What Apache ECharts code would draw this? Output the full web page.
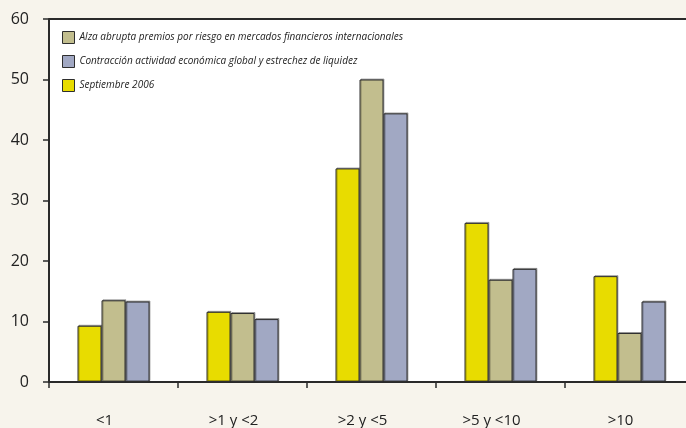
<!DOCTYPE html>
<html><head><meta charset="utf-8">
<script src="https://cdn.jsdelivr.net/npm/echarts@6/dist/echarts.min.js"></script>
<style>html,body{margin:0;padding:0;background:#f7f4ec;overflow:hidden;width:686px;height:428px;}#c{width:694px;height:428px;}</style>
</head><body><div id="c"></div>
<script>
const categories = ['<1', '>1 y <2', '>2 y <5', '>5 y <10', '>10'];
const septiembre2006 = [9.3, 11.6, 35.3, 26.3, 17.5];
const alzaAbrupta = [13.5, 11.4, 50.0, 16.9, 8.1];
const contraccion = [13.3, 10.4, 44.4, 18.7, 13.3];
const yTicks = [0, 10, 20, 30, 40, 50, 60];

const names = {
  alza: 'Alza abrupta premios por riesgo en mercados financieros internacionales',
  contr: 'Contracción actividad económica global y estrechez de liquidez',
  sep: 'Septiembre 2006'
};
const barBorder = { borderColor: '#2e2e2e', borderWidth: 1, shadowColor: 'rgba(0,0,0,0.3)', shadowBlur: 0, shadowOffsetX: 1, shadowOffsetY: -1 };
const chart = echarts.init(document.getElementById('c'), null, { renderer: 'canvas' });
chart.setOption({
  backgroundColor: '#f7f4ec',
  animation: false,
  grid: { left: 49, top: 19, right: 0, bottom: 44, show: true, backgroundColor: '#ffffff', borderWidth: 0 },
  legend: {
    orient: 'vertical', left: 57, top: 26, itemWidth: 12, itemHeight: 12, itemGap: 11, icon: 'rect',
    data: [names.alza, names.contr, names.sep],
    textStyle: { fontFamily: 'Open Sans', fontStyle: 'italic', fontSize: 10, color: '#222' },
    itemStyle: { borderColor: '#2e2e2e', borderWidth: 1 }
  },
  xAxis: {
    type: 'category', data: categories,
    axisLine: { lineStyle: { color: '#2a2a2a', width: 2 } },
    axisTick: { show: true, length: 6, lineStyle: { color: '#2a2a2a', width: 1.5 } },
    axisLabel: { margin: 31, fontFamily: 'Open Sans', fontSize: 15, color: '#222', padding: [0, 18, 0, 0] }
  },
  yAxis: {
    type: 'value', min: 0, max: 60, interval: 10,
    axisLine: { show: true, lineStyle: { color: '#2a2a2a', width: 2 } },
    axisTick: { show: true, length: 6, lineStyle: { color: '#2a2a2a', width: 1.5 } },
    splitLine: { show: false },
    axisLabel: { margin: 20, fontFamily: 'Open Sans', fontSize: 16, color: '#222',
      formatter: v => yTicks.includes(v) ? String(v) : '' }
  },
  series: [
    { name: names.sep, type: 'bar', data: septiembre2006, barWidth: 24, barGap: '0%',
      itemStyle: Object.assign({ color: '#e8dc00' }, barBorder) },
    { name: names.alza, type: 'bar', data: alzaAbrupta, barWidth: 24, barGap: '0%',
      itemStyle: Object.assign({ color: '#c2be8e' }, barBorder) },
    { name: names.contr, type: 'bar', data: contraccion, barWidth: 24, barGap: '0%',
      itemStyle: Object.assign({ color: '#a1a8c3' }, barBorder) }
  ]
});
chart.setOption({
  graphic: [{ type: 'line', shape: { x1: 49, y1: 19, x2: 694, y2: 19 }, style: { stroke: '#2a2a2a', lineWidth: 2 } }]
});
</script></body></html>
